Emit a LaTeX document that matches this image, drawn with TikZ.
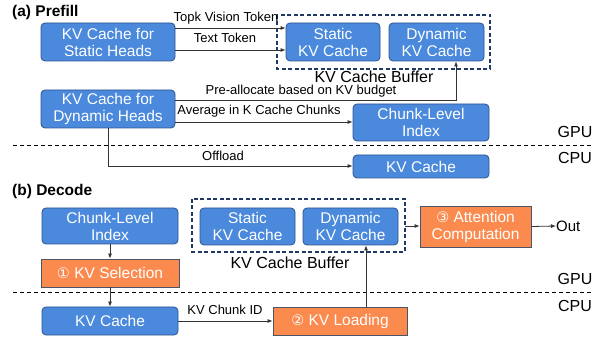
\documentclass[tikz,border=0pt]{standalone}
\usepackage{fontspec}
\setmainfont{Liberation Sans}
\newfontfamily\dejavu{DejaVu Sans}
\usetikzlibrary{arrows.meta}
\definecolor{boxblue}{HTML}{4A89DC}
\definecolor{boxedge}{HTML}{2F528F}
\definecolor{boxorange}{HTML}{FB8A4F}
\definecolor{oredge}{HTML}{4A5568}
\definecolor{bufedge}{HTML}{1F3864}
\definecolor{linec}{HTML}{333333}
\tikzset{
  bluebox/.style={draw=boxedge, line width=0.8pt, fill=boxblue, rounded corners=4pt, text=white, align=center, inner sep=0pt, font=\fontsize{15.5}{17}\selectfont},
  orbox/.style={draw=oredge, line width=0.8pt, fill=boxorange, text=white, align=center, inner sep=0pt, font=\fontsize{15.5}{17}\selectfont},
  buf/.style={draw=bufedge, line width=1.5pt, dash pattern=on 4pt off 2.5pt},
  conn/.style={draw=linec, line width=0.8pt, -{Latex[length=5pt,width=4pt]}},
  lbl/.style={font=\fontsize{13}{14}\selectfont, inner sep=0pt, anchor=base},
  biglbl/.style={font=\fontsize{16}{18}\selectfont, inner sep=0pt},
  ttl/.style={font=\bfseries\fontsize{15.5}{17}\selectfont, inner sep=0pt, anchor=west},
  sep/.style={draw=black, line width=0.7pt, dash pattern=on 4pt off 3pt}
}
\begin{document}
\begin{tikzpicture}[x=1pt,y=-1pt]
\useasboundingbox (0,0) rectangle (606,342);
% ---------- (a) Prefill ----------
\node[ttl] (ta) at (12,12) {(a) Prefill};
\node[bluebox, minimum width=134pt, minimum height=38pt] (a1) at (108,42) {KV Cache for\\Static Heads};
\node[bluebox, minimum width=94pt, minimum height=38pt] (as) at (333,42) {Static\\KV Cache};
\node[bluebox, minimum width=95pt, minimum height=38pt] (ad) at (436.5,42) {Dynamic\\KV Cache};
\draw[buf] (277,15) rectangle (490,69);
\node[biglbl] (abl) at (374,77) {KV Cache Buffer};
\node[bluebox, minimum width=134pt, minimum height=38pt] (a2) at (108,109) {KV Cache for\\Dynamic Heads};
\node[bluebox, minimum width=136pt, minimum height=37pt] (aci) at (421,122.5) {Chunk-Level\\Index};
\node[bluebox, minimum width=136pt, minimum height=23pt] (akv) at (421,166.5) {KV Cache};
\node[biglbl] (agpu) at (575,132) {GPU};
\node[biglbl] (acpu) at (575,158) {CPU};
\draw[sep] (13,145) -- (593,145);

\coordinate (t1) at (a1.east |- 0,28);
\coordinate (t2) at (a1.east |- 0,50);
\draw[conn] (t1) -- (as.west |- t1);
\node[lbl] (lt1) at (226,22) {Topk Vision Token};
\draw[conn] (t2) -- (as.west |- t2);
\node[lbl] (lt2) at (225,43) {Text Token};
\coordinate (p1) at (a2.east |- 0,100);
\coordinate (p2) at (456,100);
\draw[conn] (p1) -- (p2) -- (p2 |- ad.south);
\node[lbl] (lp) at (301,95) {Pre-allocate based on KV budget};
\coordinate (q1) at (a2.east |- 0,122);
\draw[conn] (q1) -- (aci.west |- q1);
\node[lbl] (lq) at (259,115) {Average in K Cache Chunks};
\coordinate (o1) at (108,166);
\draw[conn] (a2.south) -- (o1) -- (akv.west |- o1);
\node[lbl] (lo) at (223,161) {Offload};

% ---------- (b) Decode ----------
\node[ttl] (tb) at (12,191) {(b) Decode};
\node[bluebox, minimum width=136pt, minimum height=36pt] (bci) at (110,226) {Chunk-Level\\Index};
\node[orbox, minimum width=138pt, minimum height=28pt] (bsel) at (110,273) {{\dejavu\fontsize{14.5}{16}\selectfont ①} KV Selection};
\node[bluebox, minimum width=136pt, minimum height=28pt] (bkv) at (110,321) {KV Cache};
\node[orbox, minimum width=134pt, minimum height=28pt] (bload) at (340,321) {{\dejavu\fontsize{14.5}{16}\selectfont ②} KV Loading};
\node[bluebox, minimum width=95pt, minimum height=37pt] (bs) at (247.5,226.5) {Static\\KV Cache};
\node[bluebox, minimum width=95pt, minimum height=37pt] (bd) at (350.5,226.5) {Dynamic\\KV Cache};
\draw[buf] (192,199) rectangle (405,252);
\coordinate (bufr) at (405,226);
\node[biglbl] (bbl) at (290,263) {KV Cache Buffer};
\node[orbox, minimum width=111pt, minimum height=41pt] (batt) at (475.5,226.5) {{\dejavu\fontsize{14.5}{16}\selectfont ③} Attention\\Computation};
\node[font=\fontsize{15}{16}\selectfont, inner sep=0pt, anchor=west] (out) at (556,226) {Out};
\node[biglbl] (bgpu) at (575,279) {GPU};
\node[biglbl] (bcpu) at (575,306) {CPU};
\draw[sep] (13,292) -- (593,292);

\draw[conn] (bci.south) -- (bsel.north);
\draw[conn] (bsel.south) -- (bkv.north);
\draw[conn] (bkv.east) -- (bload.west);
\node[lbl] (lk) at (225,315) {KV Chunk ID};
\draw[conn] (bload.north -| 366,0) -- (366,0 |- bd.south);
\draw[conn] (bufr) -- (batt.west |- bufr);
\draw[conn] (batt.east) -- (out.west);
\end{tikzpicture}
\end{document}
